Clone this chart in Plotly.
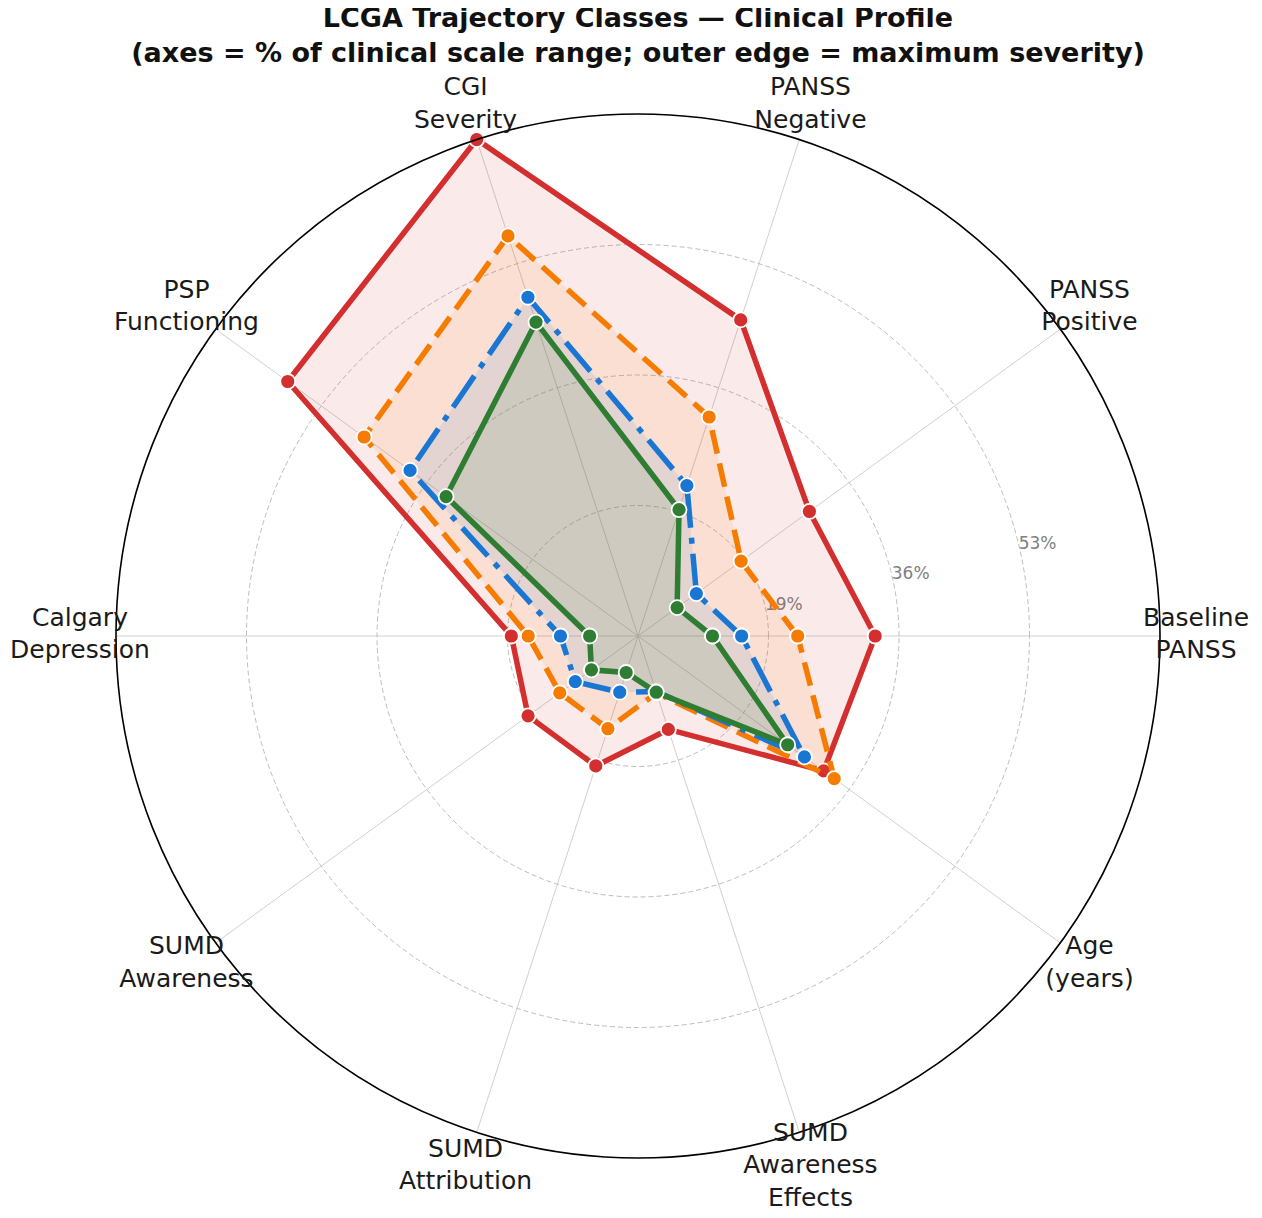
import plotly.graph_objects as go

# ---- data ----
categories = ["Baseline<br>PANSS", "PANSS<br>Positive", "PANSS<br>Negative", "CGI<br>Severity",
              "PSP<br>Functioning", "Calgary<br>Depression", "SUMD<br>Awareness",
              "SUMD<br>Attribution", "SUMD<br>Awareness<br>Effects", "Age<br>(years)"]
class_names = ["Class A", "Class B", "Class C", "Class D"]
class_red = [32.9, 29.6, 45.3, 70.0, 58.4, 18.5, 19.7, 19.8, 14.8, 31.9]
class_orange = [22.8, 18.6, 32.0, 56.8, 46.1, 16.3, 14.6, 14.7, 9.8, 33.6]
class_blue = [15.5, 11.4, 22.6, 48.4, 38.7, 12.1, 12.1, 9.7, 9.6, 28.8]
class_green = [11.7, 8.3, 19.3, 45.0, 32.9, 8.3, 9.5, 7.0, 9.7, 26.1]
radial_ticks = [19, 36, 53]
radial_tick_labels = ["19%", "36%", "53%"]

# ---- styling / geometry ----
W, H = 1262, 1218
CX, CY = 630, 628          # polar centre in plot pixels
RPX = 522                  # outer ring radius in pixels
R_MIN, R_MAX = 2, 70
LBL_MAX = 76               # range of the (invisible) label ring
LABEL_R = 74.7
RPX2 = RPX * (LBL_MAX - R_MIN) / (R_MAX - R_MIN)
step = 360 / len(categories)
thetas = [i * step for i in range(len(categories))]


def dom(r):
    return dict(x=[(CX - r) / W, (CX + r) / W], y=[(H - CY - r) / H, (H - CY + r) / H])


series = [
    (class_names[0], class_red, "#d32f2f", "rgba(211,47,47,0.10)", "solid"),
    (class_names[1], class_orange, "#f57c00", "rgba(245,124,0,0.10)", "24px,10px"),
    (class_names[2], class_blue, "#1976d2", "rgba(25,118,210,0.10)", "38px,10px,6px,10px"),
    (class_names[3], class_green, "#2e7d32", "rgba(46,125,50,0.11)", "solid"),
]

fig = go.Figure()

# radial tick labels (drawn beneath the data)
fig.add_trace(go.Scatterpolar(
    r=radial_ticks, theta=[13.5] * len(radial_ticks), mode="text",
    text=radial_tick_labels, textposition="middle right",
    textfont=dict(family="DejaVu Sans", size=17, color="#808080"),
    showlegend=False, hoverinfo="skip", cliponaxis=False,
))

for name, vals, color, fill, dash in series:
    fig.add_trace(go.Scatterpolar(
        r=vals + vals[:1], theta=thetas + thetas[:1], name=name,
        mode="lines+markers", fill="toself", fillcolor=fill,
        line=dict(color=color, width=5.5, dash=dash),
        marker=dict(size=15, color=color, line=dict(color="white", width=1.8)),
        showlegend=False,
    ))

# category labels on a larger, invisible polar ring with the same centre
fig.add_trace(go.Scatterpolar(
    r=[LABEL_R] * len(categories), theta=thetas, mode="text", text=categories,
    textposition="middle center", subplot="polar2",
    textfont=dict(family="DejaVu Sans", size=25, color="#1a1a1a"),
    showlegend=False, hoverinfo="skip", cliponaxis=False,
))

hidden_radial = dict(range=[R_MIN, LBL_MAX], showticklabels=False, ticks="", showline=False,
                     showgrid=False)
hidden_angular = dict(showticklabels=False, ticks="", showline=False, showgrid=False,
                      direction="counterclockwise", rotation=0)

fig.update_layout(
    width=W, height=H,
    margin=dict(l=0, r=0, t=0, b=0),
    paper_bgcolor="white",
    font=dict(family="DejaVu Sans"),
    title=dict(
        text="<b>LCGA Trajectory Classes — Clinical Profile<br>"
             "(axes = % of clinical scale range; outer edge = maximum severity)</b>",
        x=CX / W, xanchor="center", y=1 - 19 / H, yanchor="top", yref="container",
        font=dict(family="DejaVu Sans", size=27, color="#111111"),
    ),
    polar=dict(
        domain=dom(RPX),
        bgcolor="white",
        radialaxis=dict(range=[R_MIN, R_MAX], tickvals=radial_ticks, showticklabels=False,
                        ticks="", showline=False, gridcolor="#bdbdbd", griddash="5px,3px",
                        gridwidth=1, angle=13.5),
        angularaxis=dict(tickmode="array", tickvals=thetas, showticklabels=False, ticks="",
                         direction="counterclockwise", rotation=0,
                         showline=True, linecolor="black", linewidth=1.6,
                         gridcolor="#d0d0d0", gridwidth=1),
    ),
    polar2=dict(
        domain=dom(RPX2),
        bgcolor="rgba(0,0,0,0)",
        radialaxis=hidden_radial,
        angularaxis=hidden_angular,
    ),
)

fig.write_html("out.html")
